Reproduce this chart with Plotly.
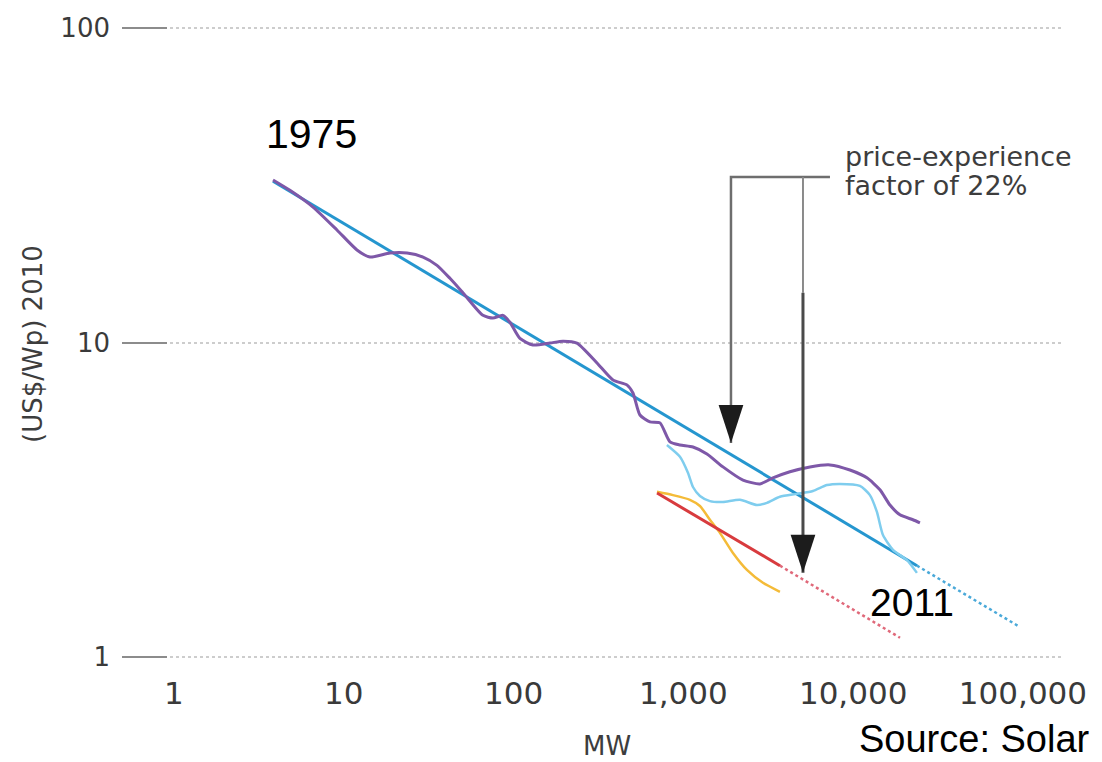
import plotly.graph_objects as go

# ---------------- data ----------------
x_tick_vals = [1, 10, 100, 1000, 10000, 100000]
x_tick_text = ["1", "10", "100", "1,000", "10,000", "100,000"]
y_tick_vals = [1, 10, 100]
y_tick_text = ["1", "10", "100"]

# experience curve (fit) and its projection
experience_mw = [3.83, 23760]
experience_price = [32.6, 1.95]
experience_proj_mw = [23760, 93400]
experience_proj_price = [1.95, 1.255]

# module price history (purple)
module_mw = [3.83, 4.82, 6.59, 9.12, 11.96, 14.27, 18.7, 23.6, 29.3, 35.4, 42.2,
             50.3, 66.0, 75.6, 86.6, 95.2, 109, 130, 164, 195, 236, 310, 385,
             465, 505, 555, 636, 728, 834, 955, 1139, 1377, 1711, 2244, 2825,
             3370, 4241, 5565, 7300, 9573, 12050, 14380, 16470, 18860, 22490, 24730]
module_price = [32.9, 30.5, 26.97, 22.8, 19.7, 18.7, 19.26, 19.26, 18.7, 17.6, 16.0,
                14.4, 12.2, 11.96, 12.2, 11.6, 10.3, 9.82, 9.96, 10.1, 9.96, 8.61, 7.60,
                7.33, 6.91, 5.88, 5.59, 5.55, 4.83, 4.72, 4.65, 4.42, 4.02, 3.65, 3.55,
                3.71, 3.88, 4.02, 4.08, 3.93, 3.71, 3.40, 3.04, 2.83, 2.73, 2.67]

# second price series (light blue)
crystalline_mw = [800, 955, 1064, 1139, 1252, 1434, 1711, 2154, 2713, 3106, 3705,
                  4667, 5796, 7008, 8357, 10960, 12550, 13800, 14980, 17150, 20740, 23740]
crystalline_price = [4.72, 4.33, 3.85, 3.47, 3.25, 3.13, 3.11, 3.16, 3.04, 3.09, 3.23,
                     3.30, 3.37, 3.52, 3.55, 3.50, 3.27, 2.89, 2.44, 2.19, 2.03, 1.85]

# thin-film price series (yellow)
thinfilm_mw = [699, 868, 1093, 1252, 1434, 1642, 1959, 2368, 2942, 3705]
thinfilm_price = [3.35, 3.27, 3.16, 3.02, 2.73, 2.48, 2.14, 1.89, 1.72, 1.61]

# thin-film experience line (red) and projection
tf_line_mw = [700, 3707]
tf_line_price = [3.32, 1.95]
tf_proj_mw = [3707, 18880]
tf_proj_price = [1.95, 1.15]

# price-experience factor arrows
arrow_mw = [1907, 5063]
arrow_tip_price = [4.79, 1.85]
bracket_price = 33.6
bracket_end_mw = 7300
arrow2_dark_from = 14.4

# ---------------- figure ----------------
fig = go.Figure()

fig.add_trace(go.Scatter(x=experience_proj_mw, y=experience_proj_price, mode="lines",
                         line=dict(color="#4aa9d9", width=2.5, dash="dot")))
fig.add_trace(go.Scatter(x=tf_proj_mw, y=tf_proj_price, mode="lines",
                         line=dict(color="#e0697a", width=2.5, dash="dot")))
fig.add_trace(go.Scatter(x=experience_mw, y=experience_price, mode="lines",
                         line=dict(color="#2596cf", width=3)))
fig.add_trace(go.Scatter(x=module_mw, y=module_price, mode="lines",
                         line=dict(color="#7e58a8", width=3, shape="spline", smoothing=0.6)))
fig.add_trace(go.Scatter(x=crystalline_mw, y=crystalline_price, mode="lines",
                         line=dict(color="#7fcdee", width=2.5, shape="spline", smoothing=0.6)))
fig.add_trace(go.Scatter(x=thinfilm_mw, y=thinfilm_price, mode="lines",
                         line=dict(color="#f4bb38", width=2.5, shape="spline", smoothing=0.6)))
fig.add_trace(go.Scatter(x=tf_line_mw, y=tf_line_price, mode="lines",
                         line=dict(color="#d83b3e", width=3)))

# bracket + arrow shafts
fig.add_trace(go.Scatter(x=[bracket_end_mw, arrow_mw[0], arrow_mw[0]],
                         y=[bracket_price, bracket_price, arrow_tip_price[0]],
                         mode="lines", line=dict(color="#6e6e6e", width=2.5)))
fig.add_trace(go.Scatter(x=[arrow_mw[1], arrow_mw[1]],
                         y=[bracket_price, arrow2_dark_from],
                         mode="lines", line=dict(color="#8a8a8a", width=2)))
fig.add_trace(go.Scatter(x=[arrow_mw[1], arrow_mw[1]],
                         y=[arrow2_dark_from, arrow_tip_price[1]],
                         mode="lines", line=dict(color="#4a4a4a", width=3)))
fig.add_trace(go.Scatter(x=arrow_mw, y=arrow_tip_price, mode="markers",
                         marker=dict(symbol="arrow", angle=180, size=40, color="#1c1c1c",
                                     line=dict(width=0))))

tick_font = dict(family="DejaVu Sans", color="#3a3a3a")

fig.update_xaxes(type="log", range=[-0.306, 5.224], tickvals=x_tick_vals, ticktext=x_tick_text,
                 showgrid=False, zeroline=False, showline=False, ticks="",
                 tickfont=dict(size=31, **tick_font), ticklabelstandoff=12)
fig.update_yaxes(type="log", range=[-0.01, 2.01], tickvals=y_tick_vals, ticktext=y_tick_text,
                 showgrid=True, gridcolor="#cdcdcd", gridwidth=1.5, griddash="dot",
                 zeroline=False, showline=False, ticks="inside", ticklen=45, tickwidth=1.5,
                 tickcolor="#8c8c8c", tickfont=dict(size=26, **tick_font), ticklabelstandoff=11)

arial = "Liberation Sans, Arial, sans-serif"
annotations = [
    dict(text="1975", x=0.2023, y=0.8283, xanchor="center", yanchor="middle",
         font=dict(family=arial, size=41, color="#000000")),
    dict(text="2011", x=0.8408, y=0.0906, xanchor="center", yanchor="middle",
         font=dict(family=arial, size=39, color="#000000")),
    dict(text="price-experience", x=0.7678, y=0.7937, xanchor="left", yanchor="middle",
         font=dict(family="DejaVu Sans", size=27, color="#3d3d3d")),
    dict(text="factor of 22%", x=0.7678, y=0.7465, xanchor="left", yanchor="middle",
         font=dict(family="DejaVu Sans", size=27, color="#3d3d3d")),
    dict(text="MW", x=0.5165, y=-0.1354, xanchor="center", yanchor="middle",
         font=dict(family="DejaVu Sans", size=26, color="#3d3d3d")),
    dict(text="(US$/Wp) 2010", x=-0.0948, y=0.4976, xanchor="center", yanchor="middle",
         textangle=-90, font=dict(family="DejaVu Sans", size=26, color="#3d3d3d")),
    dict(text="Source: Solar", x=0.7827, y=-0.1606, xanchor="left", yanchor="bottom",
         font=dict(family=arial, size=38, color="#000000")),
]
for a in annotations:
    a.update(xref="paper", yref="paper", showarrow=False)

fig.update_layout(
    width=1102, height=762,
    margin=dict(l=122, r=41, t=25, b=102),
    paper_bgcolor="white", plot_bgcolor="white",
    showlegend=False,
    annotations=annotations,
)

fig.write_html("out.html", config={"displayModeBar": False},
               post_script="document.body.style.margin='0px';")
